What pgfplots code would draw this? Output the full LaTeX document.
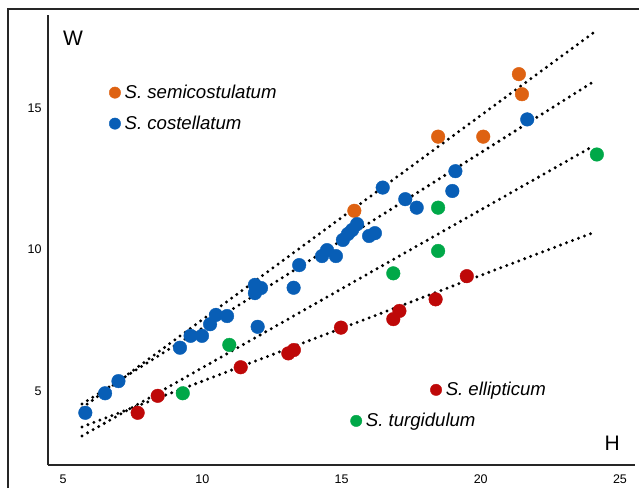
\documentclass[border=0pt]{standalone}
\usepackage{fontspec}
\setmainfont{Liberation Sans}
\usepackage{pgfplots}
\pgfplotsset{compat=1.18}
\definecolor{corange}{RGB}{222,98,18}
\definecolor{cblue}{RGB}{8,94,182}
\definecolor{cgreen}{RGB}{0,168,72}
\definecolor{cred}{RGB}{190,8,8}
\pgfplotsset{
  common/.style={
    scale only axis, width=587pt, height=450pt,
    at={(48pt,23pt)}, anchor=south west,
    xmin=4.46, xmax=25.54, ymin=2.385, ymax=18.29,
  },
  trend/.style={black, line width=3.3pt, line cap=round, dash pattern=on 0pt off 6.4pt},
  legimg/.style={legend image code/.code={\draw[##1] plot coordinates {(0pt,0pt)};}},
  legsty/.style={legend style={draw=none, fill=none, inner sep=0pt,
     font=\fontsize{18.6}{21}\selectfont\itshape, row sep=12pt,
     nodes={inner sep=2pt}}, legend cell align=left},
}
\begin{document}
\begin{tikzpicture}[x=1pt,y=1pt]
\useasboundingbox (0,0) rectangle (639,488);
\draw[line width=1.6pt, black!85] (8,0) -- (8,479) -- (639,479);
\begin{axis}[common,
  axis x line=bottom, axis y line=left,
  axis line style={-, line width=1.6pt, black!85},
  xtick={5,10,15,20,25}, ytick={5,10,15},
  major tick length=0pt,
  /pgf/number format/assume math mode=true,
  tick label style={font=\fontsize{12.5}{14}\selectfont},
  xticklabel style={yshift=-6pt},
  yticklabel style={xshift=-3pt},
  legimg, legsty,
  legend style={at={(axis description cs:0.104,0.849)}, anchor=north west, column sep=2pt},
  clip=false,
]
\addplot[only marks, mark=*, mark size=6.8pt, color=corange, forget plot] coordinates {
(21.37,16.20) (21.48,15.49) (18.47,13.99) (20.09,13.99) (15.46,11.37)};
\addplot[only marks, mark=*, mark size=6.8pt, color=cblue, forget plot] coordinates {
(21.67,14.60) (19.09,12.77) (18.98,12.07) (17.29,11.78) (17.70,11.48) (16.48,12.19)
(15.56,10.90) (15.38,10.69) (15.23,10.55) (15.05,10.34) (15.99,10.48) (16.20,10.58)
(14.48,9.98) (14.30,9.77) (14.80,9.77)
(13.48,9.45) (13.28,8.65)
(11.89,8.75) (12.11,8.64) (11.89,8.46)
(11.99,7.27) (10.89,7.65) (10.49,7.69) (10.28,7.36) (9.58,6.95) (9.99,6.95) (9.20,6.53)
(6.99,5.35) (6.51,4.92) (5.80,4.23)};
\addplot[only marks, mark=*, mark size=6.8pt, color=cgreen, forget plot] coordinates {
(24.17,13.36) (18.47,11.48) (18.47,9.95) (16.86,9.16) (10.97,6.63) (9.30,4.92)};
\addplot[only marks, mark=*, mark size=6.8pt, color=cred, forget plot] coordinates {
(19.50,9.06) (18.38,8.24) (17.08,7.83) (16.86,7.54) (14.98,7.24) (13.29,6.45) (13.09,6.33) (11.38,5.84) (8.40,4.83) (7.68,4.23)};
\addplot[trend, forget plot] coordinates {(5.68,4.40) (24.03,17.65)};
\addplot[trend, forget plot] coordinates {(5.68,4.54) (23.96,15.88)};
\addplot[trend, forget plot] coordinates {(5.68,3.41) (23.92,13.59)};
\addplot[trend, forget plot] coordinates {(5.68,3.73) (24.10,10.62)};
\addlegendimage{only marks, mark=*, mark size=5.7pt, color=corange}
\addlegendentry{S. semicostulatum}
\addlegendimage{only marks, mark=*, mark size=5.7pt, color=cblue}
\addlegendentry{S. costellatum}
\node[font=\fontsize{21}{24}\selectfont] at (axis cs:5.36,17.47) {W};
\node[font=\fontsize{21}{24}\selectfont] at (axis cs:24.72,3.14) {H};
\end{axis}
\begin{axis}[common, hide axis, legimg, legsty,
  legend style={at={(axis description cs:0.651,0.167)}, anchor=west, column sep=2pt}]
\addlegendimage{only marks, mark=*, mark size=5.7pt, color=cred}
\addlegendentry{S. ellipticum}
\end{axis}
\begin{axis}[common, hide axis, legimg, legsty,
  legend style={at={(axis description cs:0.515,0.098)}, anchor=west, column sep=2pt}]
\addlegendimage{only marks, mark=*, mark size=5.7pt, color=cgreen}
\addlegendentry{S. turgidulum}
\end{axis}
\end{tikzpicture}
\end{document}
